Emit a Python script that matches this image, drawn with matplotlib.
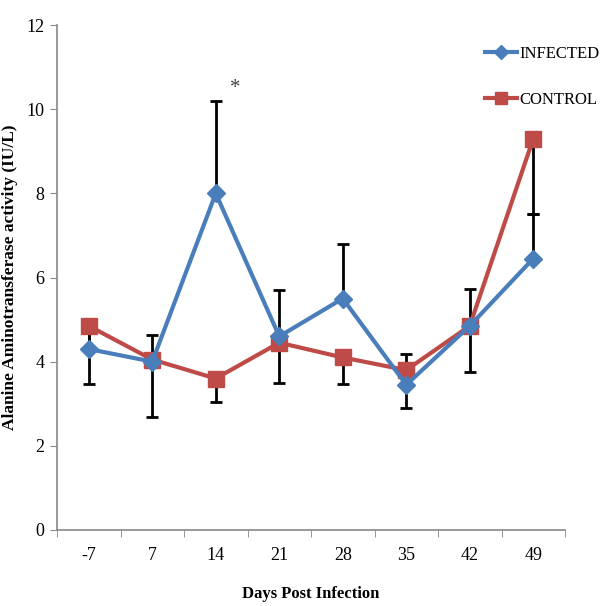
# ALT activity over days post infection, infected vs control

import matplotlib
matplotlib.use("Agg")
import matplotlib.pyplot as plt
import numpy as np

plt.rcParams['font.family'] = ['Liberation Serif', 'DejaVu Serif']

DAYS = ["-7", "7", "14", "21", "28", "35", "42", "49"]

infected = [4.3, 4.0, 8.0, 4.6, 5.5, 3.45, 4.85, 6.45]
infected_err_up = [0.5, 0.63, 2.2, 1.1, 1.3, 0.73, 0.87, 1.05]

control = [4.85, 4.05, 3.6, 4.45, 4.1, 3.8, 4.85, 9.3]
control_err_down = [1.38, 1.37, 0.55, 0.95, 0.63, 0.9, 1.1, 1.8]

BLUE = '#4a7ebb'
RED = '#be4b48'

fig = plt.figure(figsize=(6.12, 6.06), dpi=100)
ax = fig.add_axes([57 / 612, 76 / 606, 508 / 612, 505 / 606])

x = np.arange(len(DAYS))
zeros = np.zeros(len(DAYS))

# error bars: infected shown upward, control downward
ax.errorbar(x, infected, yerr=[zeros, infected_err_up], fmt='none',
            ecolor='black', elinewidth=2, capsize=4, capthick=2, zorder=1)
ax.errorbar(x, control, yerr=[control_err_down, zeros], fmt='none',
            ecolor='black', elinewidth=2, capsize=4, capthick=2, zorder=1)

ax.plot(x, infected, color=BLUE, lw=3, marker='D', markersize=9,
        label='INFECTED', zorder=3)
ax.plot(x, control, color=RED, lw=3, marker='s', markersize=11,
        label='CONTROL', zorder=2)

ax.text(2.3, 10.5, '*', fontsize=15, color='#444444', ha='center', va='center')

ax.set_xlim(-0.5, len(DAYS) - 0.5)
ax.set_ylim(0, 12)
ax.set_yticks(range(0, 13, 2))
ax.set_xticks(x)
ax.set_xticklabels(DAYS)
ax.set_xticks(np.arange(-0.5, len(DAYS)), minor=True)
ax.tick_params(axis='x', which='major', length=0, labelsize=13, pad=12)
ax.tick_params(axis='x', which='minor', length=5, color='#888888')
ax.tick_params(axis='y', length=5, color='#888888', labelsize=13, pad=4)

for side in ('top', 'right'):
    ax.spines[side].set_visible(False)
for side in ('left', 'bottom'):
    ax.spines[side].set_color('#888888')
    ax.spines[side].set_linewidth(1.2)

ax.set_xlabel('Days Post Infection', fontsize=12, fontweight='bold', labelpad=16)
ax.set_ylabel('Alanine Aminotransferase activity (IU/L)', fontsize=12.5,
              fontweight='bold', labelpad=6)

fig.legend(loc='upper left', bbox_to_anchor=(485 / 612, 1 - 46 / 606),
           frameon=False, fontsize=12, handlelength=1.9, handletextpad=0.15,
           labelspacing=1.8, borderaxespad=0, borderpad=0, markerscale=0.8)

plt.savefig('out.png', dpi=100)
